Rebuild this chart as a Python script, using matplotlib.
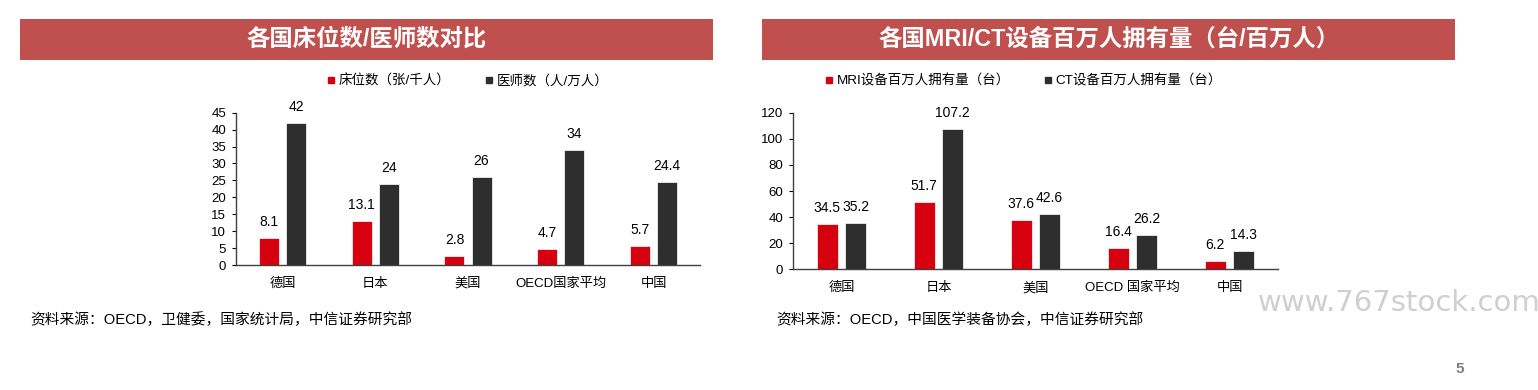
import matplotlib.pyplot as plt
from matplotlib.patches import Rectangle
from matplotlib.lines import Line2D
import numpy as np

plt.rcParams['font.family'] = ['Liberation Sans', 'Noto Sans CJK SC', 'DejaVu Sans']

# data
countries_left = ['德国', '日本', '美国', 'OECD国家平均', '中国']
beds = [8.1, 13.1, 2.8, 4.7, 5.7]
doctors = [42, 24, 26, 34, 24.4]
beds_labels = ['8.1', '13.1', '2.8', '4.7', '5.7']
doctors_labels = ['42', '24', '26', '34', '24.4']

countries_right = ['德国', '日本', '美国', 'OECD 国家平均', '中国']
mri = [34.5, 51.7, 37.6, 16.4, 6.2]
ct = [35.2, 107.2, 42.6, 26.2, 14.3]
mri_labels = ['34.5', '51.7', '37.6', '16.4', '6.2']
ct_labels = ['35.2', '107.2', '42.6', '26.2', '14.3']

RED = '#D7000F'
DARK = '#2E2E2E'
BANNER = '#C0504D'
W, H = 1538, 390

fig = plt.figure(figsize=(W / 100, H / 100), dpi=100)


def px_rect(x0, y0, x1, y1):
    # pixel box (top-left origin) -> figure fraction [l, b, w, h]
    return [x0 / W, 1 - y1 / H, (x1 - x0) / W, (y1 - y0) / H]


def banner(x0, x1, text):
    l, b, w, h = px_rect(x0, 19, x1, 60)
    fig.patches.append(Rectangle((l, b), w, h, transform=fig.transFigure,
                                 facecolor=BANNER, edgecolor='none'))
    fig.text(l + w / 2, b + h / 2, text, color='white', fontsize=16.8,
             fontweight='bold', ha='center', va='center')


def bar_chart(rect, cats, v1, v2, l1, l2, ymax, step):
    ax = fig.add_axes(rect)
    x = np.arange(len(cats))
    bw = 0.215
    off = 0.146
    ax.bar(x - off, v1, bw, color=RED, edgecolor='white', linewidth=0.5)
    ax.bar(x + off, v2, bw, color=DARK, edgecolor='white', linewidth=0.5)
    for xi, v, t in zip(x - off, v1, l1):
        ax.annotate(t, (xi, v), xytext=(0, 11.5), textcoords='offset points',
                    ha='center', va='center', fontsize=10)
    for xi, v, t in zip(x + off, v2, l2):
        ax.annotate(t, (xi, v), xytext=(0, 11.5), textcoords='offset points',
                    ha='center', va='center', fontsize=10)
    ax.set_xlim(-0.5, len(cats) - 0.5)
    ax.set_ylim(0, ymax)
    ax.set_yticks(np.arange(0, ymax + 1, step))
    ax.set_xticks(x)
    ax.set_xticklabels(cats)
    ax.tick_params(axis='x', length=0, pad=9, labelsize=9.5)
    ax.tick_params(axis='y', length=3, width=0.8, pad=4, labelsize=9.5)
    for s in ['top', 'right']:
        ax.spines[s].set_visible(False)
    for s in ['left', 'bottom']:
        ax.spines[s].set_color('#404040')
        ax.spines[s].set_linewidth(1)
    ax.patch.set_alpha(0)
    return ax


def legend(cx, labels, spacing):
    handles = [Line2D([], [], marker='s', linestyle='none', color=c, markersize=4)
               for c in (RED, DARK)]
    fig.legend(handles, labels, loc='center', bbox_to_anchor=(cx / W, 1 - 81 / H),
               ncol=2, frameon=False, fontsize=9.7, handlelength=0.5,
               handletextpad=0.3, columnspacing=spacing)


# left panel
banner(20, 713, '各国床位数/医师数对比')
legend(468, ['床位数（张/千人）', '医师数（人/万人）'], 2.6)
bar_chart(px_rect(236, 112.7, 700, 265), countries_left, beds, doctors,
          beds_labels, doctors_labels, 45, 5)
fig.text(30 / W, 1 - 320 / H, '资料来源：OECD，卫健委，国家统计局，中信证券研究部',
         fontsize=10.6, ha='left', va='center')

# right panel
banner(762, 1455, '各国MRI/CT设备百万人拥有量（台/百万人）')
legend(1024, ['MRI设备百万人拥有量（台）', 'CT设备百万人拥有量（台）'], 2.6)
bar_chart(px_rect(793, 112.7, 1278, 269.3), countries_right, mri, ct,
          mri_labels, ct_labels, 120, 20)
fig.text(776 / W, 1 - 320 / H, '资料来源：OECD，中国医学装备协会，中信证券研究部',
         fontsize=10.6, ha='left', va='center')

# watermark and page number
fig.text(1258 / W, 1 - 303 / H, 'www.767stock.com', fontsize=21, color='#CFCFCF',
         ha='left', va='center', family='DejaVu Sans')
fig.text(1460 / W, 1 - 369 / H, '5', fontsize=11, color='#7F7F7F',
         fontweight='bold', ha='center', va='center')

fig.savefig('out.png', dpi=100)
